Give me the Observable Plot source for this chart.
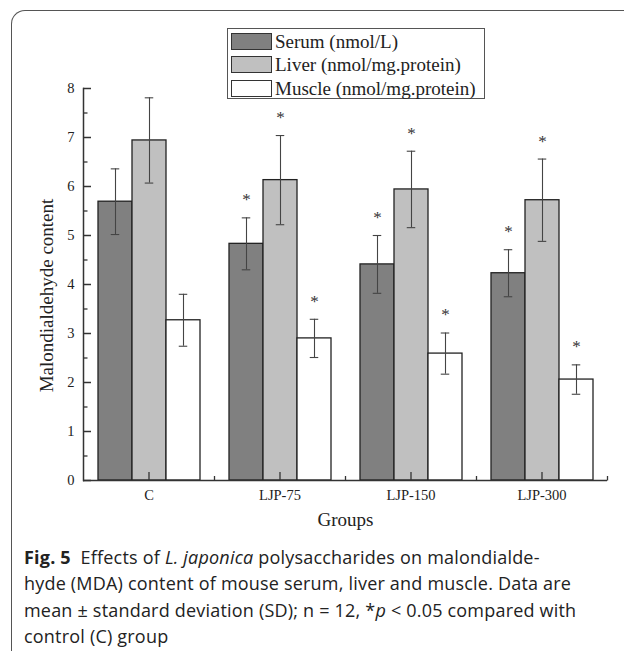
<!DOCTYPE html>
<html><head><meta charset="utf-8">
<script src="https://cdn.jsdelivr.net/npm/d3@7"></script>
<script src="https://cdn.jsdelivr.net/npm/@observablehq/plot@0.6"></script>
<style>
body{margin:0;background:#fff;width:624px;height:651px;overflow:hidden;position:relative;font-family:"Liberation Serif",serif;}
#frame{position:absolute;left:11px;top:10px;width:700px;height:700px;border-left:1.5px solid #555;border-top:1.5px solid #555;border-top-left-radius:14px;}
#chart{position:absolute;left:0;top:0;}
#legend{position:absolute;left:227px;top:28px;width:258px;height:71px;border:1px solid #555;box-sizing:border-box;background:#fff;}
.row{position:absolute;left:3px;height:17px;display:flex;align-items:center;}
.sw{width:41px;height:17px;border:1.3px solid #333;box-sizing:border-box;margin-right:3px}
.lbl{font-family:"Liberation Serif",serif;font-size:19px;line-height:17px;color:#222;white-space:nowrap}
#caption{position:absolute;left:24px;top:543.5px;font-family:"Open Sans",sans-serif;font-size:18px;letter-spacing:0.2px;line-height:26.5px;color:#222;white-space:nowrap}
</style></head>
<body>
<div id="frame"></div>
<div id="chart"></div>
<div id="legend"></div>
<div id="caption"><b>Fig. 5</b>&nbsp; Effects of <i>L. japonica</i> polysaccharides on malondialde-<br>hyde (MDA) content of mouse serum, liver and muscle. Data are<br>mean ± standard deviation (SD); n = 12, *<i>p</i> &lt; 0.05 compared with<br>control (C) group</div>
<script>
const groups = ["C", "LJP-75", "LJP-150", "LJP-300"];
const series = ["Serum (nmol/L)", "Liver (nmol/mg.protein)", "Muscle (nmol/mg.protein)"];
const serumMean = [5.69, 4.83, 4.41, 4.23];
const serumSD = [0.67, 0.53, 0.59, 0.48];
const liverMean = [6.94, 6.13, 5.94, 5.72];
const liverSD = [0.87, 0.91, 0.78, 0.84];
const muscleMean = [3.27, 2.90, 2.59, 2.06];
const muscleSD = [0.53, 0.39, 0.42, 0.30];
const significant = [false, true, true, true];
const yTicks = [0, 1, 2, 3, 4, 5, 6, 7, 8];
const yMinorTicks = [0.5, 1.5, 2.5, 3.5, 4.5, 5.5, 6.5, 7.5];
const seriesColors = ["#808080", "#c0c0c0", "#ffffff"];
const yLabel = "Malondialdehyde content";
const xLabel = "Groups";

const means = [serumMean, liverMean, muscleMean];
const sds = [serumSD, liverSD, muscleSD];
const rows = [];
groups.forEach((g, i) => {
  series.forEach((s, j) => {
    rows.push({group: g, series: s, mean: means[j][i], sd: sds[j][i],
      lo: means[j][i] - sds[j][i], hi: means[j][i] + sds[j][i], sig: significant[i]});
  });
});

const minorTick = {draw(ctx) { ctx.moveTo(0, 0); ctx.lineTo(0, -4.5); }};

const chart = Plot.plot({
  width: 624, height: 545,
  marginTop: 88, marginBottom: 65, marginLeft: 82, marginRight: 16,
  style: {fontFamily: "Liberation Serif, serif", fontSize: "14.5px", color: "#222", background: "transparent"},
  fx: {domain: groups, padding: 0},
  x: {domain: series, paddingInner: 0, paddingOuter: 0.386, axis: null},
  y: {domain: [0, 8]},
  color: {domain: series, range: seriesColors},
  marks: [
    Plot.barY(rows, {fx: "group", x: "series", y: "mean", fill: "series", stroke: "#222", strokeWidth: 1.3}),
    Plot.ruleX(rows, {fx: "group", x: "series", y1: "lo", y2: "hi", stroke: "#444", strokeWidth: 1.1}),
    Plot.tickY(rows, {fx: "group", x: "series", y: "lo", stroke: "#444", strokeWidth: 1.1, inset: 12.75}),
    Plot.tickY(rows, {fx: "group", x: "series", y: "hi", stroke: "#444", strokeWidth: 1.1, inset: 12.75}),
    Plot.text(rows.filter(d => d.sig), {fx: "group", x: "series", y: "hi", text: () => "*", dy: -18, fontSize: 17, fill: "#333"}),
    Plot.ruleY([0], {stroke: "#333", strokeWidth: 1.5}),
    Plot.frame({anchor: "left", facetAnchor: "left", stroke: "#333", strokeWidth: 1.5}),
    Plot.dot([0], {frameAnchor: "bottom-right", symbol: minorTick, stroke: "#333", strokeWidth: 1.3, r: 1}),
    Plot.axisY({ticks: yTicks, tickSize: -8, tickPadding: 17, stroke: "#333", strokeWidth: 1.5, label: null}),
    Plot.axisY({ticks: yMinorTicks, tickSize: -4.5, tickFormat: () => "", stroke: "#333", strokeWidth: 1.3, label: null}),
    Plot.axisFx({anchor: "bottom", tickSize: -8, tickPadding: 17.5, stroke: "#333", strokeWidth: 1.3, label: null}),
    Plot.text([yLabel], {fx: () => groups[0], frameAnchor: "left", textAnchor: "middle", rotate: -90, dx: -37, dy: 11, fontSize: 19, fill: "#222"}),
    Plot.text([xLabel], {fx: () => groups[2], frameAnchor: "bottom-left", textAnchor: "middle", dy: 45, fontSize: 19, fill: "#222"})
  ]
});
document.getElementById("chart").appendChild(chart);

const legend = d3.select("#legend");
series.forEach((s, j) => {
  const row = legend.append("div").attr("class", "row").style("top", (3.5 + j * 23.7) + "px");
  row.append("div").attr("class", "sw").style("background", seriesColors[j]);
  row.append("div").attr("class", "lbl").text(s);
});
</script>
</body></html>
